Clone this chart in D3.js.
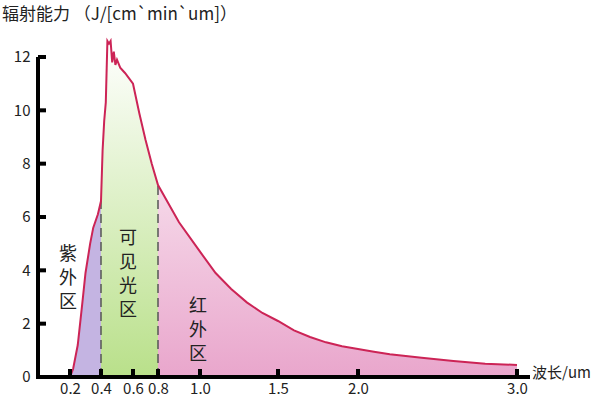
<!DOCTYPE html><html><head><meta charset="utf-8">
<script src="https://cdn.jsdelivr.net/npm/d3@7"></script>
<style>body{margin:0;background:#fff}text{font-family:"Noto Sans CJK SC","DejaVu Serif",serif}</style></head><body>
<svg id="c" width="600" height="401"></svg>
<script>
const wl=[0.2,0.22,0.25,0.28,0.3,0.33,0.35,0.38,0.4,0.41,0.42,0.43,0.44,0.45,0.46,0.47,0.48,0.49,0.5,0.52,0.55,0.6,0.65,0.7,0.75,0.8,0.9,1.0,1.1,1.2,1.3,1.4,1.5,1.6,1.7,1.8,1.9,2.0,2.1,2.2,2.4,2.6,2.8,3.0];
const val=[0,0.3,1.2,2.8,3.9,5.0,5.6,6.1,6.6,8.5,9.6,10.3,12.6,12.5,12.6,11.8,12.2,11.7,11.9,11.6,11.4,11.0,9.9,8.9,8.0,7.2,5.8,4.7,3.9,3.3,2.8,2.4,2.1,1.75,1.5,1.3,1.15,1.05,0.95,0.85,0.72,0.6,0.5,0.45];
const xTicks=[0.2,0.4,0.6,0.8,1.0,1.5,2.0,3.0];
const xTickLabels=["0.2","0.4","0.6","0.8","1.0","1.5","2.0","3.0"];
const yTicks=[0,2,4,6,8,10,12];
const svg=d3.select("#c");
const x=d3.scaleLinear().domain([0,0.2,0.4,0.6,0.8,1.0,1.5,2,3]).range([38,70,101,133,158,200,278,358,517]);
const y=d3.scaleLinear().domain([0,12]).range([377,57]);
const data=wl.map((w,i)=>({w,v:val[i]}));
const defs=svg.append("defs");
function grad(id,c){const g=defs.append("linearGradient").attr("id",id).attr("x1",0).attr("y1",0).attr("x2",0).attr("y2",1);
g.append("stop").attr("offset","0").attr("stop-color","#fff");g.append("stop").attr("offset","1").attr("stop-color",c);}
grad("gv","#b9e08a");grad("gi","#e9a6cc");
const regions=[[0.2,0.4,"#c4b4e2"],[0.4,0.8,"url(#gv)"],[0.8,3.0,"url(#gi)"]];
const area=d3.area().x(d=>x(d.w)).y0(y(0)).y1(d=>y(d.v));
regions.forEach(([a,b,f],i)=>{
 defs.append("clipPath").attr("id","cl"+i).append("rect").attr("x",x(a)).attr("y",0).attr("width",x(b)-x(a)).attr("height",401);
 svg.append("path").datum(data).attr("d",area).attr("fill",f).attr("clip-path",`url(#cl${i})`);
});
const ip=d3.scaleLinear().domain(wl).range(val);
[0.4,0.8].forEach(w=>svg.append("line").attr("x1",x(w)).attr("x2",x(w)).attr("y1",y(0)).attr("y2",y(ip(w))).attr("stroke","#555").attr("stroke-width",1.5).attr("stroke-dasharray","9,5"));
svg.append("path").datum(data).attr("d",d3.line().x(d=>x(d.w)).y(d=>y(d.v))).attr("fill","none").attr("stroke","#cc2456").attr("stroke-width",2);
const xa=svg.append("g").attr("transform",`translate(0,${y(0)})`).call(d3.axisBottom(x).tickValues(xTicks).tickFormat((d,i)=>xTickLabels[i]).tickSize(0));
xa.select(".domain").attr("stroke","#000").attr("stroke-width",4).attr("d",`M36,0H530`);
xa.selectAll("text").attr("font-size",15).attr("dy","0.9em").attr("fill","#222");
xTicks.forEach(t=>svg.append("rect").attr("x",x(t)-2).attr("y",y(0)-8).attr("width",4).attr("height",8).attr("fill","#000"));
const ya=svg.append("g").attr("transform",`translate(38,0)`).call(d3.axisLeft(y).tickValues(yTicks).tickSize(0));
ya.select(".domain").attr("stroke","#000").attr("stroke-width",4).attr("d",`M0,379V57`);
ya.selectAll("text").attr("font-size",15).attr("dx","-0.3em").attr("fill","#222");
yTicks.slice(1).forEach(t=>svg.append("rect").attr("x",38).attr("y",y(t)-2).attr("width",8).attr("height",4).attr("fill","#000"));
svg.append("text").attr("x",2).attr("y",20).attr("font-size",17).attr("fill","#222").text("辐射能力 （J/[cm`min`um]）");
svg.append("text").attr("x",532).attr("y",378).attr("font-size",15).attr("fill","#222").text("波长/um");
function vt(s,cx,y0){[...s].forEach((c,i)=>svg.append("text").attr("x",cx).attr("y",y0+i*24).attr("text-anchor","middle").attr("font-size",18).attr("fill","#222").text(c));}
vt("紫外区",68,260);vt("可见光区",128,244);vt("红外区",198,312);
</script></body></html>
